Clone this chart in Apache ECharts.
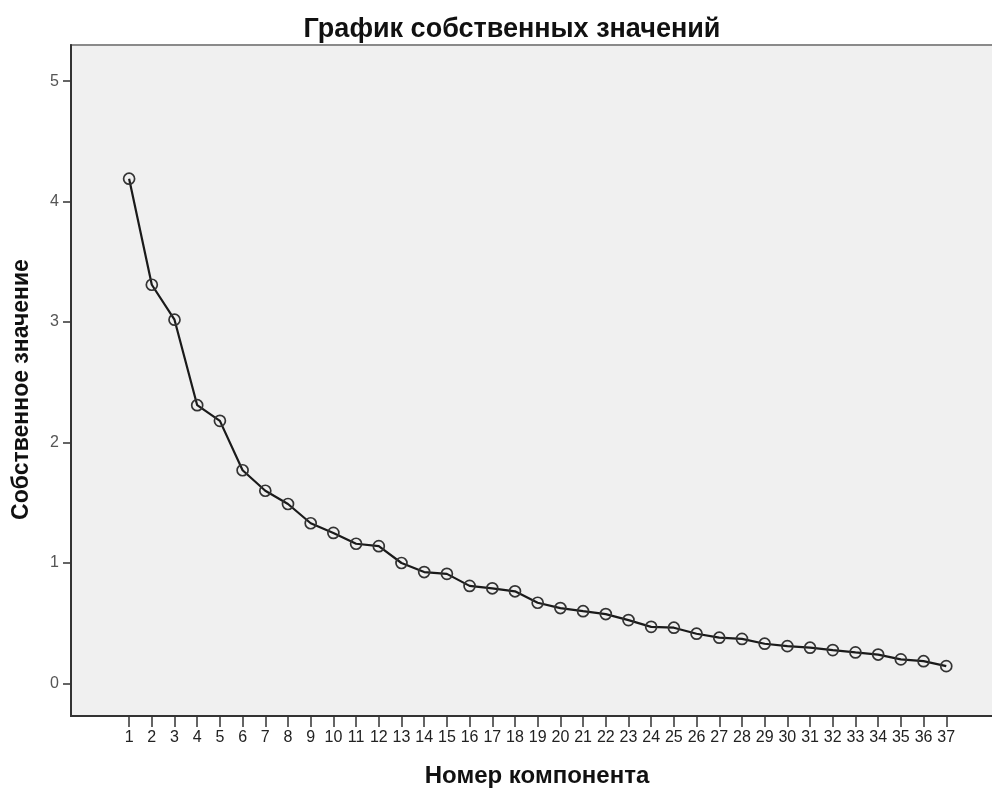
<!DOCTYPE html>
<html>
<head>
<meta charset="utf-8">
<script src="https://cdn.jsdelivr.net/npm/echarts@6/dist/echarts.min.js"></script>
<style>html,body{margin:0;padding:0;background:#fff;}#c{width:992px;height:789px;}</style>
</head>
<body>
<div id="c"></div>
<script>
const components = [1,2,3,4,5,6,7,8,9,10,11,12,13,14,15,16,17,18,19,20,21,22,23,24,25,26,27,28,29,30,31,32,33,34,35,36,37];
const eigenvalues = [4.19,3.31,3.02,2.31,2.18,1.77,1.60,1.49,1.33,1.25,1.16,1.14,1.00,0.925,0.91,0.81,0.79,0.765,0.67,0.626,0.60,0.576,0.526,0.47,0.463,0.413,0.38,0.37,0.33,0.31,0.297,0.277,0.258,0.24,0.20,0.185,0.144];
const yTicks = [0,1,2,3,4,5];
const titleText = 'График собственных значений';
const xName = 'Номер компонента';
const yName = 'Собственное значение';

const font = 'Liberation Sans, Arial, sans-serif';
const chart = echarts.init(document.getElementById('c'), null, {renderer:'canvas'});
chart.setOption({
  backgroundColor:'#fff',
  animation:false,
  title:{text:titleText,left:507,top:11,textAlign:'center',
    textStyle:{fontFamily:font,fontSize:27,fontWeight:'bold',color:'#111'}},
  grid:{left:71,top:45,right:-11,bottom:73,outerBoundsMode:'none',containLabel:false,show:true,backgroundColor:'#f0f0f0',borderColor:'#8a8a8a',borderWidth:2},
  xAxis:{type:'value',min:-1.56,max:39.5,
    name:xName,nameLocation:'middle',nameGap:48,
    nameTextStyle:{fontFamily:font,fontSize:24,fontWeight:'bold',color:'#111'},
    axisLine:{show:true,onZero:false,lineStyle:{color:'#333',width:2}},
    axisTick:{show:true,length:11,customValues:components,lineStyle:{color:'#333',width:1.5}},
    axisLabel:{customValues:components,fontFamily:font,fontSize:16,color:'#222',margin:14},
    splitLine:{show:false}},
  yAxis:{type:'value',min:-0.27,max:5.3,
    name:yName,nameLocation:'middle',nameGap:38,nameRotate:90,
    nameTextStyle:{fontFamily:font,fontSize:23,fontWeight:'bold',color:'#111',padding:[0,18,0,0]},
    axisLine:{show:true,onZero:false,lineStyle:{color:'#333',width:2}},
    axisTick:{show:true,length:8,customValues:yTicks,lineStyle:{color:'#333',width:1.5}},
    axisLabel:{customValues:yTicks,fontFamily:font,fontSize:16,color:'#555',margin:12},
    splitLine:{show:false}},
  series:[{type:'line',data:components.map((c,i)=>[c,eigenvalues[i]]),
    symbol:'circle',symbolSize:11,
    lineStyle:{color:'#1a1a1a',width:2.2},
    itemStyle:{color:'rgba(0,0,0,0)',borderColor:'#333',borderWidth:1.7}}]
});
</script>
</body>
</html>
